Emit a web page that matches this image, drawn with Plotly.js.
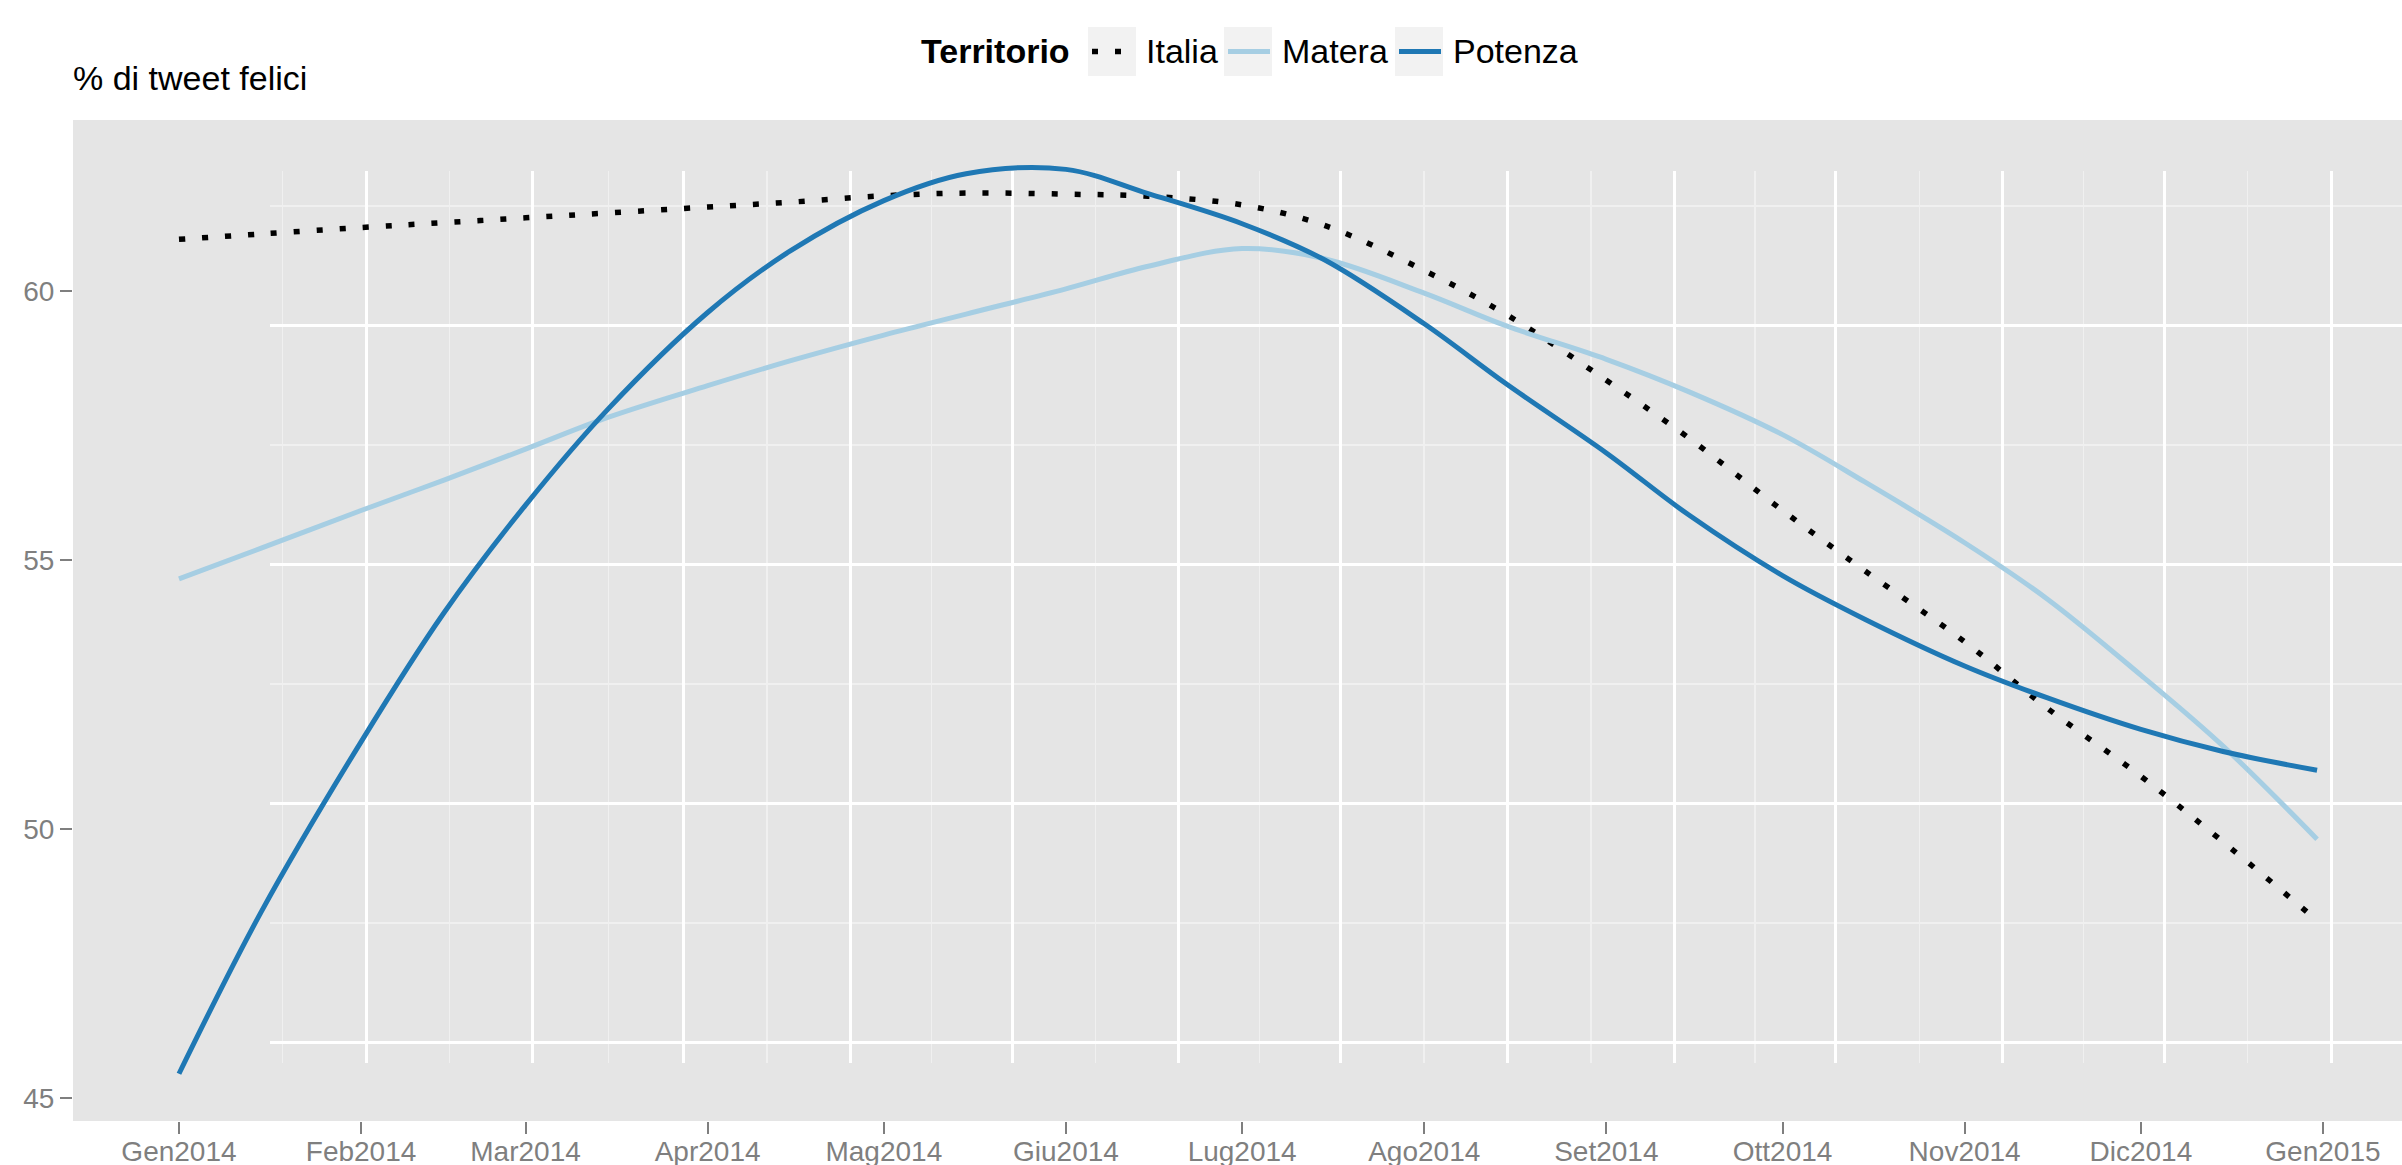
<!DOCTYPE html>
<html>
<head>
<meta charset="utf-8">
<script src="https://cdn.plot.ly/plotly-3.0.1.min.js"></script>
<style>
  html, body { margin: 0; padding: 0; background: #ffffff; }
  #chart { width: 2402px; height: 1165px; }
</style>
</head>
<body>
<div id="chart"></div>
<script>
// ---- data ----
const dates = ['2014-01-01','2014-01-15','2014-02-01','2014-02-15','2014-03-01','2014-03-15',
  '2014-04-01','2014-04-15','2014-05-01','2014-05-15','2014-06-01','2014-06-15',
  '2014-07-01','2014-07-15','2014-08-01','2014-08-15','2014-09-01','2014-09-15',
  '2014-10-01','2014-10-15','2014-11-01','2014-11-15','2014-12-01','2014-12-15','2014-12-31'];

const italia  = [60.96,61.06,61.18,61.27,61.36,61.45,61.56,61.65,61.77,61.82,61.80,61.76,
  61.60,61.22,60.38,59.56,58.34,57.27,55.92,54.80,53.48,52.25,50.98,49.76,48.30];
const matera  = [54.65,55.22,55.92,56.48,57.06,57.65,58.24,58.70,59.18,59.57,60.04,60.46,
  60.79,60.60,59.96,59.35,58.73,58.13,57.33,56.45,55.32,54.28,52.86,51.54,49.81];
const potenza = [45.45,48.46,51.62,54.00,56.02,57.80,59.60,60.74,61.68,62.18,62.26,61.81,
  61.25,60.58,59.39,58.27,56.99,55.84,54.71,53.90,53.03,52.44,51.85,51.44,51.09];

const seriesNames = ['Italia', 'Matera', 'Potenza'];
const seriesColors = ['#000000', '#A6CEE3', '#1F78B4'];
const monthTicks = ['2014-01-01','2014-02-01','2014-03-01','2014-04-01','2014-05-01','2014-06-01',
  '2014-07-01','2014-08-01','2014-09-01','2014-10-01','2014-11-01','2014-12-01','2015-01-01'];
const monthLabels = ['Gen2014','Feb2014','Mar2014','Apr2014','Mag2014','Giu2014','Lug2014',
  'Ago2014','Set2014','Ott2014','Nov2014','Dic2014','Gen2015'];
const yTicks = [45, 50, 55, 60];
const yMinor = [47.5, 52.5, 57.5, 62.5];
const legendTitle = 'Territorio';
const yLabel = '% di tweet felici';

// ---- layout helpers ----
const W = 2402, H = 1165;
const FONT = 'Liberation Sans, Arial, Helvetica, sans-serif';
const px = v => v / W;          // pixel x -> paper
const py = v => 1 - v / H;      // pixel y (from top) -> paper

// minor grid (mid-month) positions for the background grid
const gridMonths = ['2013-12-01'].concat(monthTicks);
const minorX = [];
for (let i = 0; i < gridMonths.length - 1; i++) {
  const a = new Date(gridMonths[i] + 'T00:00:00Z').getTime();
  const b = new Date(gridMonths[i + 1] + 'T00:00:00Z').getTime();
  minorX.push(new Date((a + b) / 2).toISOString().slice(0, 19).replace('T', ' '));
}

const lineStyles = [
  { color: seriesColors[0], width: 5.5, dash: '6px,17px' },
  { color: seriesColors[1], width: 5 },
  { color: seriesColors[2], width: 5 }
];
const seriesValues = [italia, matera, potenza];

const traces = [
  { x: [], y: [], xaxis: 'x', yaxis: 'y', type: 'scatter', mode: 'lines', showlegend: false, hoverinfo: 'skip' }
];
seriesNames.forEach((n, i) => {
  traces.push({ x: dates, y: seriesValues[i], name: n, xaxis: 'x2', yaxis: 'y2', type: 'scatter', mode: 'lines',
    showlegend: false,
    line: Object.assign({ shape: 'spline', smoothing: 1 }, lineStyles[i]) });
});

// ggplot-style legend built from shapes + text
const keyLeft = [1088, 1224, 1395];
const shapes = [
  { type: 'rect', xref: 'paper', yref: 'paper', x0: px(73), x1: 1, y0: py(1121), y1: py(120),
    fillcolor: '#E5E5E5', line: { width: 0 }, layer: 'below' }
];
const annotations = [
  { text: yLabel, xref: 'paper', yref: 'paper', x: px(71), xanchor: 'left', y: py(78), yanchor: 'middle',
    showarrow: false, font: { family: FONT, size: 34, color: '#000000' } },
  { text: '<b>' + legendTitle + '</b>', xref: 'paper', yref: 'paper', x: px(919), xanchor: 'left', y: py(51), yanchor: 'middle',
    showarrow: false, font: { family: FONT, size: 34, color: '#000000' } }
];
seriesNames.forEach((n, i) => {
  const k = keyLeft[i];
  shapes.push({ type: 'rect', xref: 'paper', yref: 'paper', x0: px(k), x1: px(k + 48), y0: py(76), y1: py(27),
    fillcolor: '#F2F2F2', line: { width: 0 }, layer: 'below' });
  shapes.push({ type: 'line', xref: 'paper', yref: 'paper', x0: px(k + 4), x1: px(k + 46), y0: py(51.5), y1: py(51.5),
    line: { color: lineStyles[i].color, width: lineStyles[i].width, dash: lineStyles[i].dash || 'solid' }, layer: 'above' });
  annotations.push({ text: n, xref: 'paper', yref: 'paper', x: px(k + 56), xanchor: 'left', y: py(51), yanchor: 'middle',
    showarrow: false, font: { family: FONT, size: 34, color: '#000000' } });
});

const layout = {
  width: W, height: H,
  margin: { l: 0, r: 0, t: 0, b: 0 },
  paper_bgcolor: '#ffffff',
  plot_bgcolor: 'rgba(0,0,0,0)',
  font: { family: FONT, color: '#000000', size: 28 },
  showlegend: false,
  // background grid panel
  xaxis: {
    type: 'date', domain: [px(270), 1], anchor: 'y',
    range: ['2013-12-14 04:00', '2015-01-14 04:00'],
    tickvals: monthTicks, showticklabels: false, ticks: '',
    showgrid: true, gridcolor: '#FFFFFF', gridwidth: 3,
    minor: { tickvals: minorX, showgrid: true, gridcolor: '#F0F0F0', gridwidth: 1.5, ticks: '' },
    zeroline: false, showline: false, fixedrange: true
  },
  yaxis: {
    domain: [py(1063), py(171)], anchor: 'x',
    range: [44.57, 63.23],
    tickvals: yTicks, showticklabels: false, ticks: '',
    showgrid: true, gridcolor: '#FFFFFF', gridwidth: 3,
    minor: { tickvals: yMinor, showgrid: true, gridcolor: '#F0F0F0', gridwidth: 1.5, ticks: '' },
    zeroline: false, showline: false, fixedrange: true
  },
  // main data panel
  xaxis2: {
    type: 'date', domain: [px(73), 1], anchor: 'y2',
    range: ['2013-12-13 23:00', '2015-01-14 11:00'],
    tickvals: monthTicks, ticktext: monthLabels,
    ticks: 'outside', ticklen: 12, tickwidth: 2, tickcolor: '#7F7F7F',
    ticklabelstandoff: -7,
    tickfont: { family: FONT, size: 28, color: '#7F7F7F' },
    showgrid: false, zeroline: false, showline: false, fixedrange: true
  },
  yaxis2: {
    domain: [py(1121), py(120)], anchor: 'x2',
    range: [44.572, 63.178],
    tickvals: yTicks, ticktext: yTicks.map(String),
    ticks: 'outside', ticklen: 12, tickwidth: 2, tickcolor: '#7F7F7F',
    tickfont: { family: FONT, size: 28, color: '#7F7F7F' },
    showgrid: false, zeroline: false, showline: false, fixedrange: true
  },
  shapes: shapes,
  annotations: annotations
};

Plotly.newPlot('chart', traces, layout, { displayModeBar: false, staticPlot: true });
</script>
</body>
</html>
